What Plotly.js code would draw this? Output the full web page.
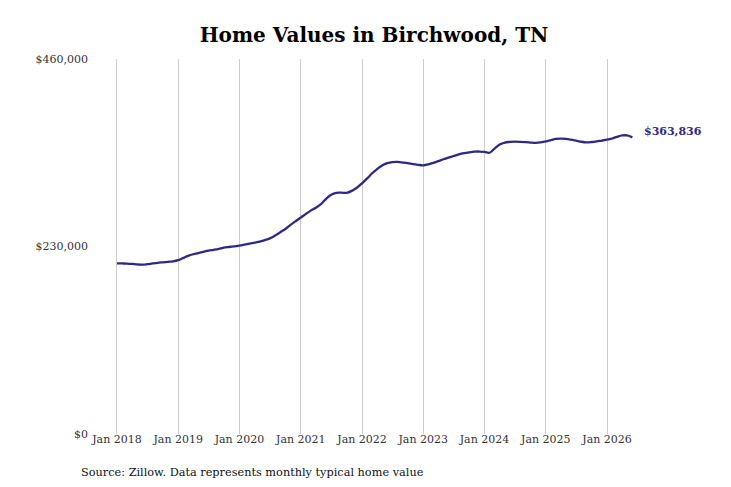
<!DOCTYPE html>
<html>
<head>
<meta charset="utf-8">
<script src="https://cdn.plot.ly/plotly-3.0.1.min.js"></script>
<style>
html,body{margin:0;padding:0;background:#fff;}
#chart{width:731px;height:487px;}
</style>
</head>
<body>
<div id="chart"></div>
<script>
// Monthly typical home value, Jan 2018 – Jun 2026
const startYear = 2018;
const values = [
  // 2018
  209400, 209200, 209000, 208600, 208000, 207700, 208300, 209200, 210000, 210600, 211200, 211800,
  // 2019
  213200, 216000, 218500, 220500, 222000, 223500, 224900, 226000, 227200, 228600, 229400, 230200,
  // 2020
  231000, 232200, 233400, 234700, 236000, 237800, 240000, 243500, 247500, 251500, 256500, 261000,
  // 2021
  265500, 270000, 274000, 277500, 282000, 288500, 293500, 295800, 296000, 295800, 298200, 302000,
  // 2022
  307500, 313500, 319500, 325000, 329500, 332200, 333500, 333700, 333000, 332200, 331000, 330200,
  // 2023
  329600, 330800, 332600, 334800, 337000, 339000, 341000, 343000, 344500, 345500, 346300, 346500,
  // 2024
  346000, 345000, 350000, 355000, 357500, 358300, 358600, 358400, 358000, 357500, 357000, 357600,
  // 2025
  359000, 360500, 362000, 362300, 362000, 361000, 359800, 358500, 357800, 358200, 359000, 360000,
  // 2026
  361000, 362500, 364500, 366200, 366300, 363836
];
const yTickVals = [0, 230000, 460000];
const yTickText = ['$0', '$230,000', '$460,000'];
const xTickYears = [2018, 2019, 2020, 2021, 2022, 2023, 2024, 2025, 2026];

const dates = values.map((v, i) => {
  const y = startYear + Math.floor(i / 12);
  const m = (i % 12) + 1;
  return y + '-' + String(m).padStart(2, '0') + '-01';
});
const xTickVals = xTickYears.map(y => y + '-01-01');
const xTickText = xTickYears.map(y => 'Jan ' + y);

const lineColor = '#2e2a84';
const lastVal = values[values.length - 1];
const lastDate = dates[dates.length - 1];

const trace = {
  x: dates,
  y: values,
  type: 'scatter',
  mode: 'lines',
  line: {color: lineColor, width: 2.3, shape: 'spline', smoothing: 1},
  hoverinfo: 'skip'
};

const layout = {
  width: 731,
  height: 487,
  margin: {l: 95, r: 51, t: 59, b: 53},
  paper_bgcolor: '#fff',
  plot_bgcolor: '#fff',
  showlegend: false,
  title: {
    text: 'Home Values in Birchwood, TN',
    font: {family: 'DejaVu Serif', size: 20, color: '#000', weight: 'bold'},
    x: 374 / 731, xanchor: 'center', xref: 'container',
    y: 1 - 35 / 487, yanchor: 'middle', yref: 'container'
  },
  xaxis: {
    type: 'date',
    range: ['2017-08-23', '2027-03-12'],
    tickvals: xTickVals,
    ticktext: xTickText,
    showgrid: true,
    gridcolor: '#cccccc',
    gridwidth: 1,
    showline: false,
    zeroline: false,
    ticks: '',
    ticklabelstandoff: -3,
    tickfont: {family: 'DejaVu Serif', size: 11, color: '#333'}
  },
  yaxis: {
    range: [0, 460000],
    tickvals: yTickVals,
    ticktext: yTickText,
    showgrid: false,
    zeroline: false,
    showline: false,
    ticks: '',
    ticklabelstandoff: 6,
    tickfont: {family: 'DejaVu Serif', size: 11, color: '#333'}
  },
  annotations: [
    {
      x: lastDate, y: lastVal, xref: 'x', yref: 'y',
      text: '$' + lastVal.toLocaleString('en-US'),
      showarrow: false, xanchor: 'left', yanchor: 'middle',
      xshift: 10, yshift: 6,
      font: {family: 'DejaVu Serif', size: 11, color: lineColor, weight: 'bold'}
    },
    {
      x: 81, y: 472, xref: 'paper', yref: 'paper',
      text: 'Source: Zillow. Data represents monthly typical home value',
      showarrow: false, xanchor: 'left', yanchor: 'middle',
      font: {family: 'DejaVu Serif', size: 11.3, color: '#111'}
    }
  ]
};
// convert source note pixel position to paper coords
const plotW = 731 - layout.margin.l - layout.margin.r;
const plotH = 487 - layout.margin.t - layout.margin.b;
layout.annotations[1].x = (79 - layout.margin.l) / plotW;
layout.annotations[1].y = (487 - layout.margin.b - 472) / plotH;

Plotly.newPlot('chart', [trace], layout, {displayModeBar: false, staticPlot: true});
</script>
</body>
</html>
